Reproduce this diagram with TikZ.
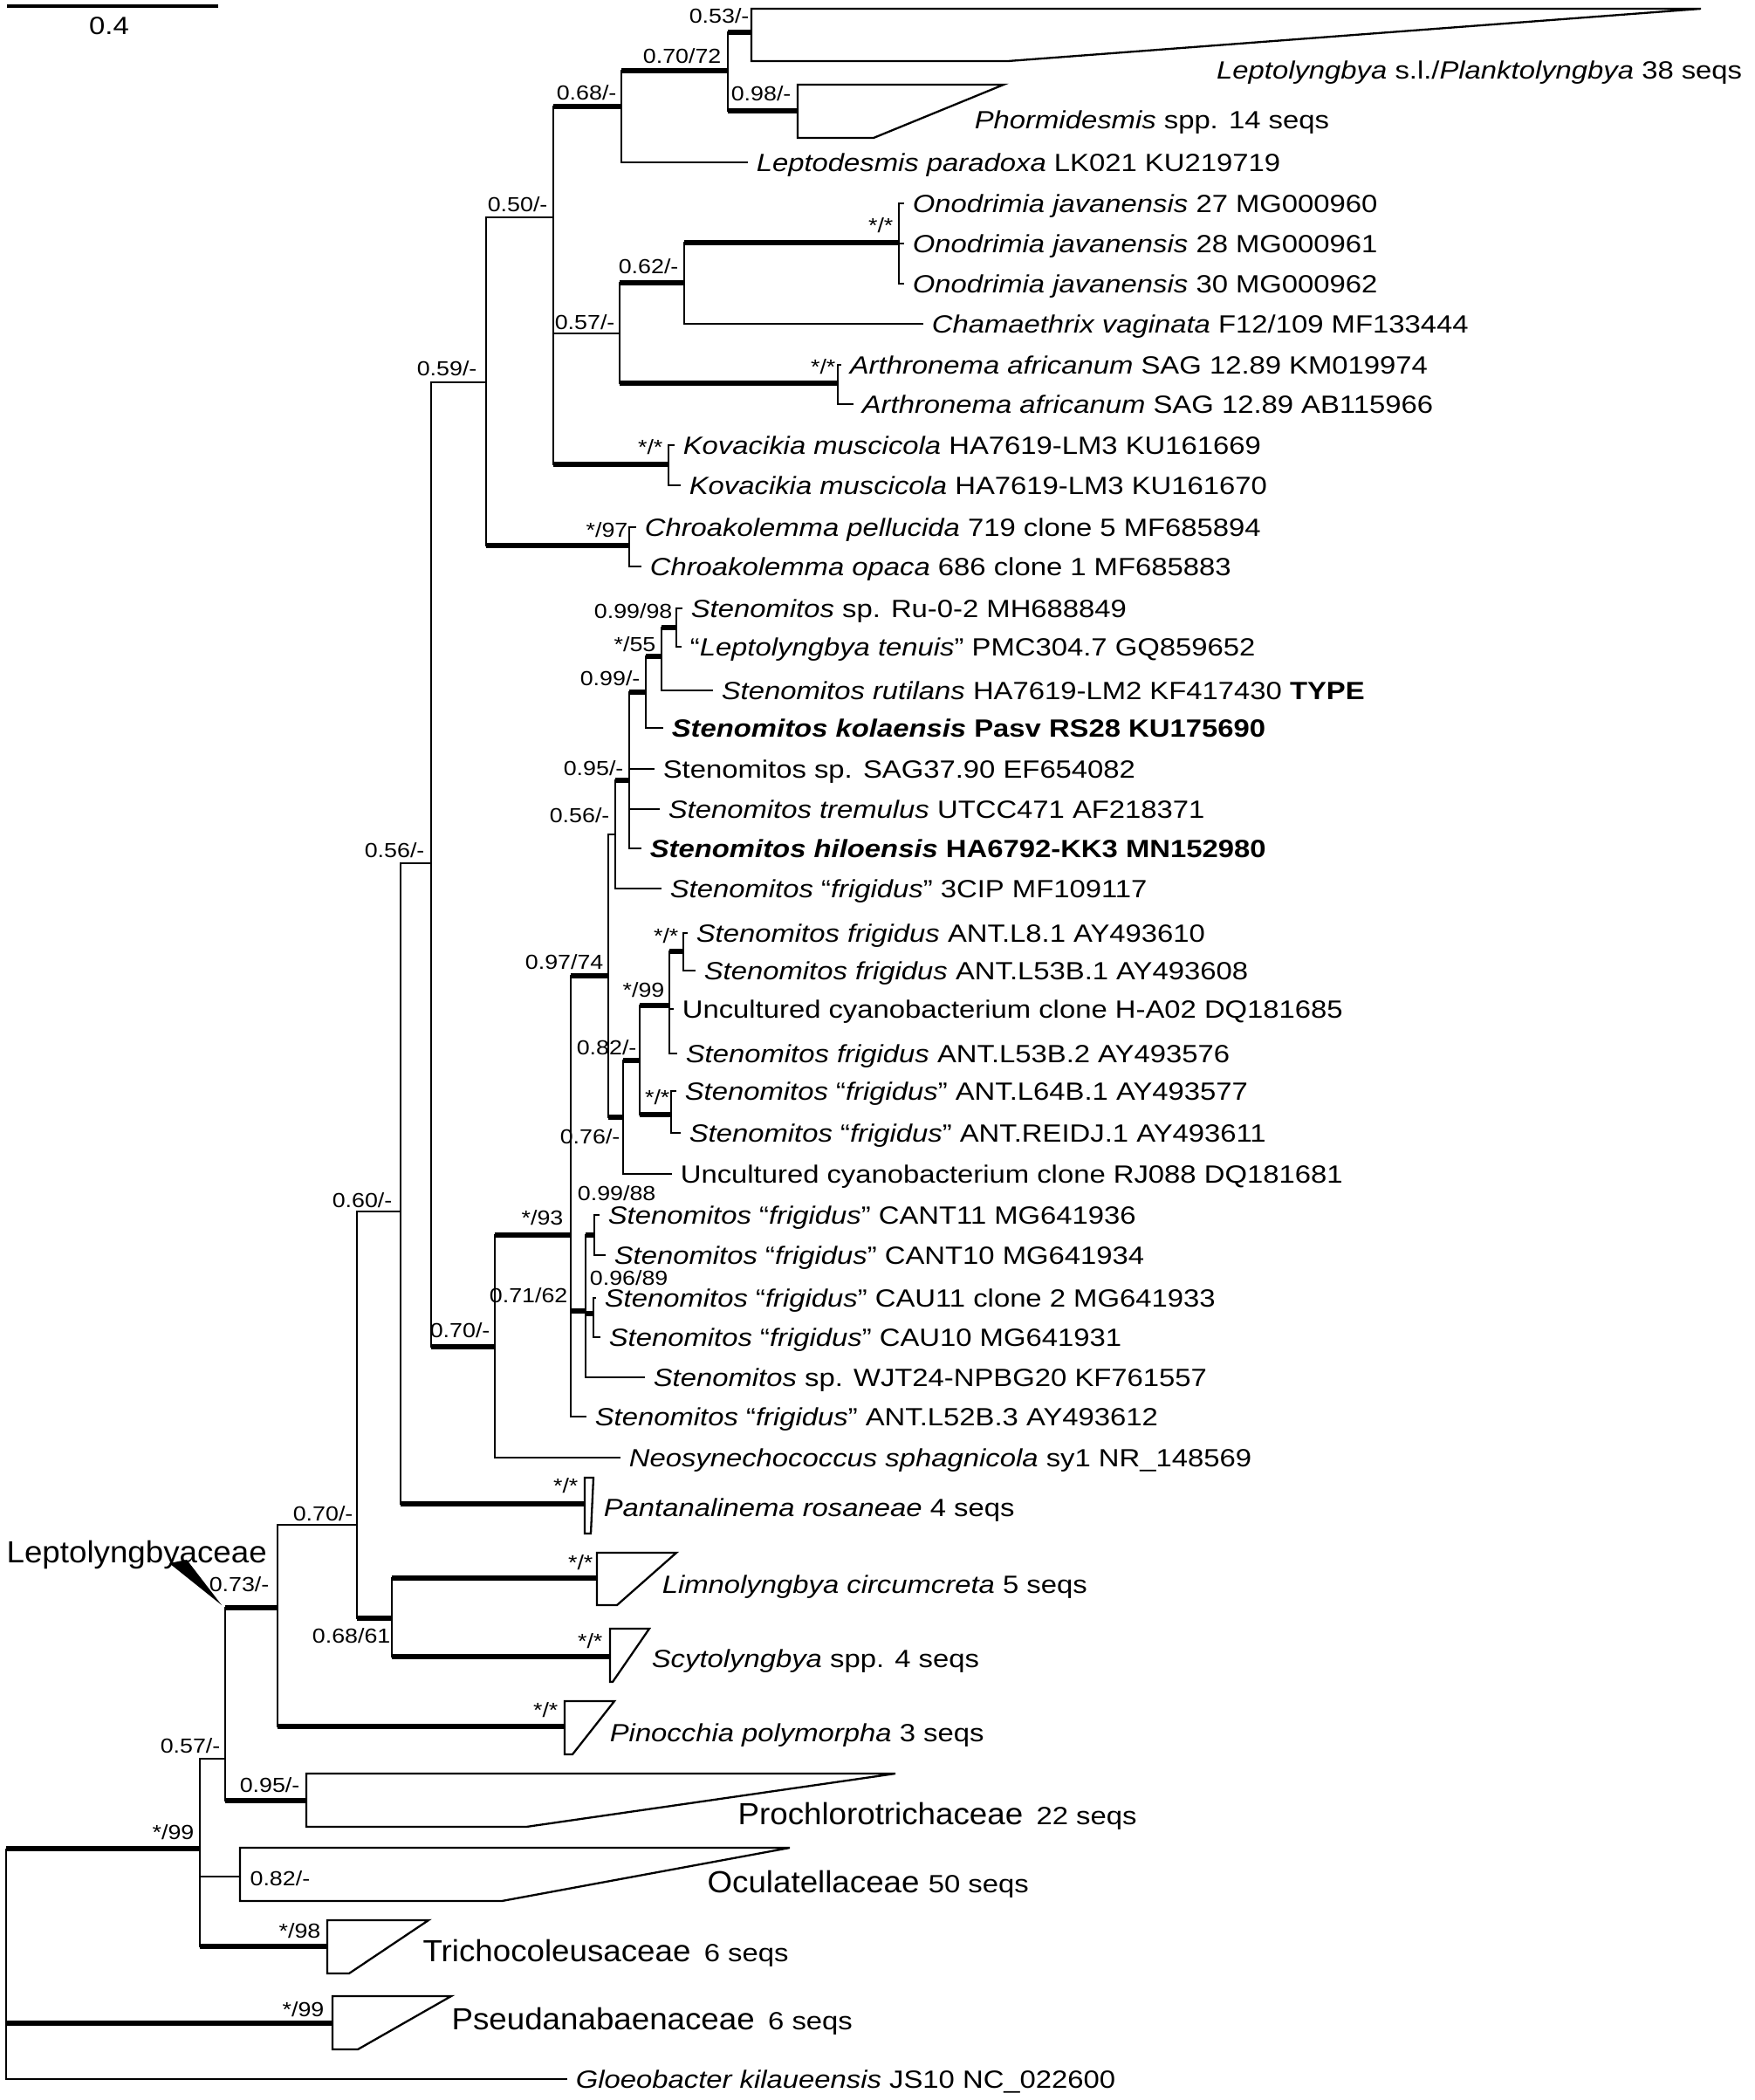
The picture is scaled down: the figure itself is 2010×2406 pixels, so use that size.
\documentclass[tikz,border=0pt]{standalone}
\usepackage{fontspec}
\setmainfont{Liberation Sans}[FakeStretch=1.15]
\newfontfamily\famfont{Liberation Sans}[FakeStretch=1.05]
\usepackage{tikz}
\newcommand\leaffont{\fontsize{9.3}{11}\selectfont}
\newcommand\bsfont{\fontsize{7.6}{9}\selectfont}
\tikzset{
  br/.style={line width=0.65pt},
  bb/.style={line width=2pt},
  clade/.style={line width=0.75pt, line join=miter},
  tip/.style={anchor=west, inner xsep=3pt, inner ysep=0pt, text height=6.6pt, text depth=0pt, font=\leaffont},
  supp/.style={anchor=base east, inner sep=0pt, font=\bsfont},
  fam/.style={anchor=base west, inner sep=0pt, font=\famfont\fontsize{11.4}{13}\selectfont}
}

\begin{document}
\begin{tikzpicture}[x=0.3259pt, y=-0.3259pt]
\fill[white] (0,0) rectangle (2010,2406);
\useasboundingbox (0,0) rectangle (2010,2406);

\coordinate (sb0) at (8,7);
\coordinate (sb1) at (250,7);
\draw[line width=1pt] (sb0) -- (sb1);
\node[font=\leaffont, inner sep=0pt] (sblab) at (125,30) {0.4};

\coordinate (root) at (7,2118);
\coordinate (nA99) at (229,2118);
\coordinate (n057) at (258,2015);
\coordinate (n073) at (318,1842);
\coordinate (n070a) at (409,1747);
\coordinate (n068b) at (449,1854);
\coordinate (n060) at (459,1388);
\coordinate (n056a) at (494,989);
\coordinate (n059) at (557,438);
\coordinate (n050) at (634,249);
\coordinate (n068) at (712,122);
\coordinate (n7072) at (834,81);
\coordinate (n057b) at (710,382);
\coordinate (n062) at (784,324);
\coordinate (nOno) at (1030,278);
\coordinate (nArt) at (960,439);
\coordinate (nKov) at (766,532);
\coordinate (nChr) at (721,625);
\coordinate (n070s) at (567,1543);
\coordinate (n93) at (654,1415);
\coordinate (n9774) at (697,1118);
\coordinate (n056b) at (705,956);
\coordinate (n095) at (721,894);
\coordinate (n099) at (740,793);
\coordinate (n55) at (758,752);
\coordinate (n9998) at (775,719);
\coordinate (n076) at (714,1280);
\coordinate (n082) at (733,1215);
\coordinate (n99b) at (767,1152);
\coordinate (nL81) at (783,1090);
\coordinate (nL64) at (769,1277);
\coordinate (n7162) at (671,1502);
\coordinate (n9988) at (681,1415);
\coordinate (n9689) at (680,1505);

\coordinate (cLep) at (861,37);
\coordinate (cPho) at (914,127);
\coordinate (cPan) at (670,1723);
\coordinate (cLim) at (684,1808);
\coordinate (cScy) at (699,1898);
\coordinate (cPin) at (647,1978);
\coordinate (cPro) at (351,2063);
\coordinate (cOcu) at (275,2150);
\coordinate (cTri) at (375,2230);
\coordinate (cPse) at (381,2318);

\draw[clade] (861,10) -- (1949,10) -- (1155,70) -- (861,70) -- cycle;
\draw[clade] (914,97) -- (1150,97) -- (1001,158) -- (914,158) -- cycle;
\draw[clade] (670,1693) -- (680,1693) -- (677,1757) -- (670,1757) -- cycle;
\draw[clade] (684,1779) -- (775,1779) -- (707,1839) -- (684,1839) -- cycle;
\draw[clade] (699,1866) -- (744,1866) -- (702,1927) -- (699,1927) -- cycle;
\draw[clade] (647,1949) -- (704,1949) -- (656,2010) -- (647,2010) -- cycle;
\draw[clade] (351,2032) -- (1026,2032) -- (603,2093) -- (351,2093) -- cycle;
\draw[clade] (275,2117) -- (905,2117) -- (575,2178) -- (275,2178) -- cycle;
\draw[clade] (375,2200) -- (491,2200) -- (400,2261) -- (375,2261) -- cycle;
\draw[clade] (381,2287) -- (517,2287) -- (410,2348) -- (381,2348) -- cycle;

\node[tip] (leptod) at (857,186) {\textit{Leptodesmis paradoxa} LK021 KU219719};
\node[tip] (ono27) at (1036,233) {\textit{Onodrimia javanensis} 27 MG000960};
\node[tip] (ono28) at (1036,279) {\textit{Onodrimia javanensis} 28 MG000961};
\node[tip] (ono30) at (1036,325) {\textit{Onodrimia javanensis} 30 MG000962};
\node[tip] (chama) at (1058,371) {\textit{Chamaethrix vaginata} F12/109 MF133444};
\node[tip] (artKM) at (964,418) {\textit{Arthronema africanum} SAG 12.89 KM019974};
\node[tip] (artAB) at (978,463) {\textit{Arthronema africanum} SAG 12.89 AB115966};
\node[tip] (kov1) at (773,510) {\textit{Kovacikia muscicola} HA7619-LM3 KU161669};
\node[tip] (kov2) at (780,556) {\textit{Kovacikia muscicola} HA7619-LM3 KU161670};
\node[tip] (chr1) at (729,604) {\textit{Chroakolemma pellucida} 719 clone 5 MF685894};
\node[tip] (chr2) at (735,649) {\textit{Chroakolemma opaca} 686 clone 1 MF685883};
\node[tip] (ru) at (782,697) {\textit{Stenomitos} sp. Ru-0-2 MH688849};
\node[tip] (tenu) at (781,741) {“\textit{Leptolyngbya tenuis}” PMC304.7 GQ859652};
\node[tip] (ruti) at (817,791) {\textit{Stenomitos rutilans} HA7619-LM2 KF417430 \textbf{TYPE}};
\node[tip] (kola) at (760,834) {\textbf{\textit{Stenomitos kolaensis} Pasv RS28 KU175690}};
\node[tip] (sag) at (750,881) {Stenomitos sp. SAG37.90 EF654082};
\node[tip] (trem) at (756,927) {\textit{Stenomitos tremulus} UTCC471 AF218371};
\node[tip] (hilo) at (735,972) {\textbf{\textit{Stenomitos hiloensis} HA6792-KK3 MN152980}};
\node[tip] (cip) at (758,1018) {\textit{Stenomitos} “\textit{frigidus}” 3CIP MF109117};
\node[tip] (l81) at (788,1069) {\textit{Stenomitos frigidus} ANT.L8.1 AY493610};
\node[tip] (l53b1) at (797,1112) {\textit{Stenomitos frigidus} ANT.L53B.1 AY493608};
\node[tip] (ha02) at (772,1156) {Uncultured cyanobacterium clone H-A02 DQ181685};
\node[tip] (l53b2) at (776,1207) {\textit{Stenomitos frigidus} ANT.L53B.2 AY493576};
\node[tip] (l64) at (775,1250) {\textit{Stenomitos} “\textit{frigidus}” ANT.L64B.1 AY493577};
\node[tip] (reid) at (780,1298) {\textit{Stenomitos} “\textit{frigidus}” ANT.REIDJ.1 AY493611};
\node[tip] (rj) at (770,1345) {Uncultured cyanobacterium clone RJ088 DQ181681};
\node[tip] (cant11) at (687,1392) {\textit{Stenomitos} “\textit{frigidus}” CANT11 MG641936};
\node[tip] (cant10) at (694,1438) {\textit{Stenomitos} “\textit{frigidus}” CANT10 MG641934};
\node[tip] (cau11) at (683,1487) {\textit{Stenomitos} “\textit{frigidus}” CAU11 clone 2 MG641933};
\node[tip] (cau10) at (688,1532) {\textit{Stenomitos} “\textit{frigidus}” CAU10 MG641931};
\node[tip] (wjt) at (739,1578) {\textit{Stenomitos} sp. WJT24-NPBG20 KF761557};
\node[tip] (l52) at (672,1623) {\textit{Stenomitos} “\textit{frigidus}” ANT.L52B.3 AY493612};
\node[tip] (neo) at (711,1670) {\textit{Neosynechococcus sphagnicola} sy1 NR\_148569};
\node[tip] (gloeo) at (650,2382) {\textit{Gloeobacter kilaueensis} JS10 NC\_022600};

\node[tip, anchor=east] (lLep) at (2006,80) {\textit{Leptolyngbya} s.l./\textit{Planktolyngbya} 38 seqs};
\node[tip] (lPho) at (1107,137) {\textit{Phormidesmis} spp. 14 seqs};
\node[tip] (lPan) at (682,1727) {\textit{Pantanalinema rosaneae} 4 seqs};
\node[tip] (lLim) at (749,1815) {\textit{Limnolyngbya circumcreta} 5 seqs};
\node[tip] (lScy) at (737,1900) {\textit{Scytolyngbya} spp. 4 seqs};
\node[tip] (lPin) at (689,1985) {\textit{Pinocchia polymorpha} 3 seqs};

\node[fam] (lLepto) at (7,1790) {Leptolyngbyaceae};
\node[fam] (lPro) at (845,2090) {Prochlorotrichaceae\hspace{5pt}{\normalfont\leaffont 22 seqs}};
\node[fam] (lOcu) at (810,2168) {Oculatellaceae {\normalfont\leaffont 50 seqs}};
\node[fam] (lTri) at (484,2247) {Trichocoleusaceae\hspace{5pt}{\normalfont\leaffont 6 seqs}};
\node[fam] (lPse) at (517,2325) {Pseudanabaenaceae\hspace{5pt}{\normalfont\leaffont 6 seqs}};
\fill (194,1791) -- (214,1787) -- (254,1839) -- cycle;

\node[supp] (s053) at (859,26) {0.53/-};
\node[supp] (s7072) at (827,72) {0.70/72};
\node[supp] (s098) at (907,115) {0.98/-};
\node[supp] (s068) at (707,114) {0.68/-};
\node[supp] (s050) at (628,242) {0.50/-};
\node[supp] (s057b) at (705,377) {0.57/-};
\node[supp] (s062) at (778,313) {0.62/-};
\node[supp] (sOno) at (1024,266) {*/*};
\node[supp] (sArt) at (958,428) {*/*};
\node[supp] (sKov) at (760,520) {*/*};
\node[supp] (sChr) at (720,615) {*/97};
\node[supp] (s059) at (547,430) {0.59/-};
\node[supp] (s9998) at (771,708) {0.99/98};
\node[supp] (s55) at (752,746) {*/55};
\node[supp] (s099) at (734,785) {0.99/-};
\node[supp] (s095) at (715,888) {0.95/-};
\node[supp] (s056b) at (699,942) {0.56/-};
\node[supp] (s9774) at (692,1110) {0.97/74};
\node[supp] (sL81) at (778,1080) {*/*};
\node[supp] (s99b) at (762,1142) {*/99};
\node[supp] (s082) at (730,1208) {0.82/-};
\node[supp] (sL64) at (768,1265) {*/*};
\node[supp] (s076) at (711,1310) {0.76/-};
\node[supp] (s9988) at (752,1375) {0.99/88};
\node[supp] (s93) at (646,1403) {*/93};
\node[supp] (s9689) at (766,1472) {0.96/89};
\node[supp] (s7162) at (651,1492) {0.71/62};
\node[supp] (s070s) at (562,1532) {0.70/-};
\node[supp] (s056a) at (487,982) {0.56/-};
\node[supp] (s060) at (450,1383) {0.60/-};
\node[supp] (sPan) at (663,1710) {*/*};
\node[supp] (s070a) at (405,1742) {0.70/-};
\node[supp] (s073) at (309,1823) {0.73/-};
\node[supp] (sLim) at (680,1798) {*/*};
\node[supp] (s068b) at (448,1882) {0.68/61};
\node[supp] (sScy) at (691,1888) {*/*};
\node[supp] (sPin) at (640,1967) {*/*};
\node[supp] (s057) at (253,2008) {0.57/-};
\node[supp] (s095b) at (344,2053) {0.95/-};
\node[supp] (sA99) at (223,2107) {*/99};
\node[supp, anchor=base west] (s082b) at (286,2160) {0.82/-};
\node[supp] (sTri) at (368,2220) {*/98};
\node[supp] (sPse) at (372,2310) {*/99};

\foreach \p/\c in {root/nA99, root/cPse, root/gloeo,
  nA99/n057, nA99/cOcu, nA99/cTri, n057/n073, n057/cPro,
  n073/n070a, n073/cPin, n070a/n060, n070a/n068b, n068b/cLim, n068b/cScy,
  n060/n056a, n060/cPan, n056a/n059, n056a/n070s, n059/n050, n059/nChr,
  n050/n068, n050/n057b, n050/nKov, n068/n7072, n068/leptod,
  n7072/cLep, n7072/cPho, n057b/n062, n057b/nArt, n062/nOno, n062/chama,
  nOno/ono27, nOno/ono28, nOno/ono30, nArt/artKM, nArt/artAB,
  nKov/kov1, nKov/kov2, nChr/chr1, nChr/chr2,
  n070s/n93, n070s/neo, n93/n9774, n93/n7162, n93/l52,
  n9774/n056b, n9774/n076, n056b/n095, n056b/cip,
  n095/n099, n095/sag, n095/trem, n095/hilo, n099/n55, n099/kola,
  n55/n9998, n55/ruti, n9998/ru, n9998/tenu,
  n076/n082, n076/rj, n082/n99b, n082/nL64,
  n99b/nL81, n99b/ha02, n99b/l53b2, nL81/l81, nL81/l53b1, nL64/l64, nL64/reid,
  n7162/n9988, n7162/n9689, n7162/wjt,
  n9988/cant11, n9988/cant10, n9689/cau11, n9689/cau10}
  \draw[br] (\p) |- (\c);

\foreach \p/\c in {root/nA99, root/cPse, nA99/cTri, n057/n073, n057/cPro,
  n073/cPin, n070a/n068b, n068b/cLim, n068b/cScy, n060/cPan, n056a/n070s,
  n059/nChr, n050/n068, n050/nKov, n068/n7072, n7072/cLep, n7072/cPho,
  n057b/n062, n057b/nArt, n062/nOno, n070s/n93, n93/n9774, n93/n7162,
  n9774/n076, n056b/n095, n095/n099, n099/n55, n55/n9998, n076/n082,
  n082/n99b, n082/nL64, n99b/nL81, n7162/n9988, n7162/n9689}
  \draw[bb] (\p |- \c) -- (\c);
\end{tikzpicture}
\end{document}
